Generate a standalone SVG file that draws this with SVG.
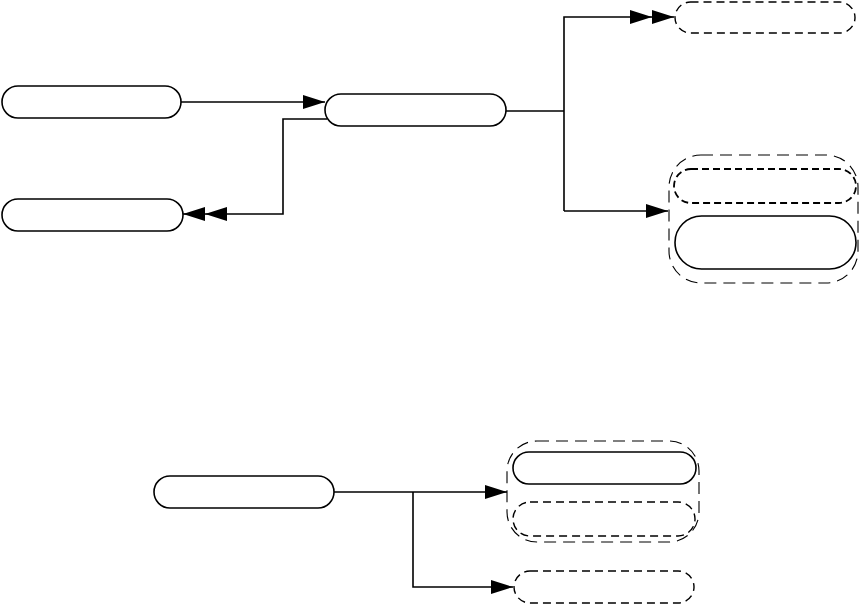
<svg xmlns="http://www.w3.org/2000/svg" width="860" height="606" viewBox="0 0 860 606">
<style>
.node{fill:#fff;stroke:#000;stroke-width:1.6}
.dash{fill:#fff;stroke:#000;stroke-width:1.4;stroke-dasharray:8 5}
.dashb{fill:none;stroke:#000;stroke-width:1.8;stroke-dasharray:7 4}
.grp{fill:none;stroke:#000;stroke-width:1.1;stroke-dasharray:12 7}
.con{fill:none;stroke:#000;stroke-width:1.6}
</style>
<defs>
<marker id="ar" markerWidth="22" markerHeight="14" refX="22" refY="7" orient="auto" markerUnits="userSpaceOnUse">
<path d="M0,0 L22,7 L0,14 Z" fill="#000"/>
</marker>
<marker id="ar2" markerWidth="44" markerHeight="14" refX="44" refY="7" orient="auto" markerUnits="userSpaceOnUse">
<path d="M0,0 L22,7 L0,14 Z M22,0 L44,7 L22,14 Z" fill="#000"/>
</marker>
</defs>
<g id="connectors">
<path class="con" d="M181,102 L325,102" marker-end="url(#ar)"/>
<path class="con" d="M327,119 L283,119 L283,214 L183,214" marker-end="url(#ar2)"/>
<path class="con" d="M506,111 L564,111"/>
<path class="con" d="M564,211 L564,17 L674,17" marker-end="url(#ar2)"/>
<path class="con" d="M564,211 L668,211" marker-end="url(#ar)"/>
<path class="con" d="M334,492 L507,492" marker-end="url(#ar)"/>
<path class="con" d="M413,492 L413,587 L513,587" marker-end="url(#ar)"/>
</g>
<g id="nodeA"><rect class="node" x="2" y="86" width="179" height="32" rx="16"/></g>
<g id="nodeD"><rect class="node" x="2" y="199" width="181" height="32" rx="16"/></g>
<g id="nodeB"><rect class="node" x="325" y="94" width="181" height="32" rx="16"/></g>
<g id="nodeC"><rect class="dash" x="675" y="2" width="180" height="31" rx="15.5"/></g>
<g id="group1">
<rect class="grp" x="669" y="155" width="189" height="128" rx="32"/>
<rect class="dashb" x="674" y="169" width="182" height="34" rx="17"/>
<rect class="node" x="675" y="216" width="181" height="53" rx="26.5"/>
</g>
<g id="nodeE"><rect class="node" x="154" y="476" width="180" height="32" rx="16"/></g>
<g id="group2">
<rect class="grp" x="507" y="441" width="192" height="101" rx="30"/>
<rect class="node" x="513" y="452" width="183" height="32" rx="16"/>
<rect class="dash" x="513" y="502" width="182" height="34" rx="17"/>
</g>
<g id="nodeG"><rect class="dash" x="514" y="571" width="180" height="32" rx="16"/></g>
</svg>
